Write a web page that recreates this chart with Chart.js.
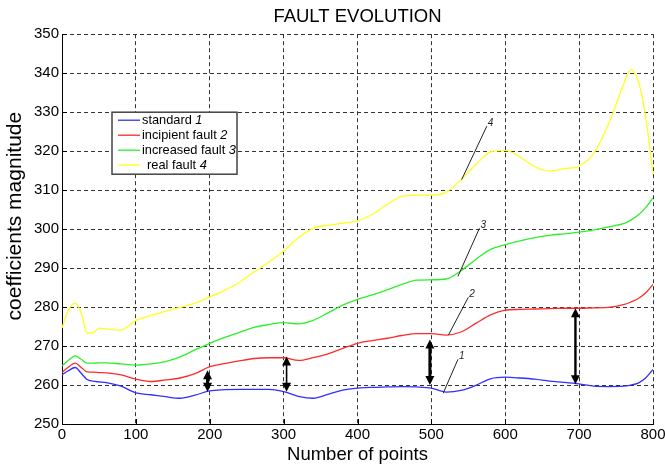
<!DOCTYPE html>
<html>
<head>
<title>Fault evolution</title>
<script src="https://cdn.jsdelivr.net/npm/chart.js@4.4.2/dist/chart.umd.min.js"></script>
<style>
    html, body { margin: 0; background: #fff; }
    canvas { display: block; }
</style>
</head>
<body>
<canvas id="faultChart" width="665" height="469"></canvas>
<script>
// sample index along the record
const points = [0, 8, 18, 26, 34, 42, 50, 60, 80, 100, 120, 140, 160, 180, 200, 220, 240, 260, 280, 300,
    320, 340, 360, 380, 400, 420, 440, 460, 480, 500, 520, 540, 560, 580, 600, 620, 640, 660, 680, 700,
    720, 740, 760, 770, 780, 790, 800];

// coefficient magnitude for each condition
const standard = [262.6, 263.6, 264.5, 263.0, 261.4, 261.0, 260.8, 260.6, 259.7, 258.0, 257.5, 257.0, 256.6, 257.4, 258.5, 258.8, 258.9, 258.9, 258.9, 258.3,
    257.1, 256.6, 257.6, 258.7, 259.2, 259.4, 259.5, 259.6, 259.5, 259.2, 258.2, 258.6, 259.9, 261.6, 262.0, 261.8, 261.5, 261.0, 260.7, 260.3,
    259.7, 259.6, 259.7, 260.0, 260.5, 261.8, 264.0];
const incipient = [263.2, 264.5, 265.6, 264.5, 263.4, 263.3, 263.2, 263.1, 262.6, 261.5, 260.9, 261.3, 261.8, 262.9, 264.7, 265.5, 266.2, 266.8, 267.0, 267.0,
    266.3, 267.0, 268.0, 269.4, 270.7, 271.4, 272.0, 272.7, 273.2, 273.2, 272.8, 273.6, 275.8, 278.0, 279.2, 279.4, 279.5, 279.6, 279.7, 279.7,
    279.8, 279.9, 280.6, 281.3, 282.2, 283.6, 285.8];
const increased = [264.9, 266.2, 267.5, 266.6, 265.6, 265.6, 265.7, 265.7, 265.4, 265.1, 265.4, 266.0, 267.2, 269.0, 270.7, 272.2, 273.5, 274.8, 275.5, 276.0,
    275.7, 276.6, 278.5, 280.5, 282.0, 283.1, 284.4, 285.8, 286.9, 287.0, 287.2, 289.3, 292.2, 294.8, 296.0, 297.0, 297.8, 298.4, 298.8, 299.2,
    299.8, 300.6, 301.4, 302.3, 303.6, 305.5, 308.0];
const realFault = [274.6, 279.0, 281.0, 278.5, 273.3, 273.4, 274.6, 274.4, 274.1, 276.6, 277.8, 278.9, 279.9, 281.0, 282.6, 284.3, 286.3, 289.0, 291.5, 294.4,
    297.8, 300.2, 301.0, 301.5, 302.1, 303.8, 306.3, 308.4, 308.7, 308.7, 309.5, 312.6, 316.5, 319.8, 320.2, 318.5, 316.0, 314.9, 315.5, 316.2,
    319.5, 327.0, 337.0, 341.0, 338.0, 329.0, 314.0];

const seriesNames = ['standard', 'incipient fault', 'increased fault', 'real fault'];
const seriesTags = ['1', '2', '3', '4'];

// double arrows between standard and fault curves
const arrowX = [197, 304, 498, 695];
const arrowLow = [258.3, 258.3, 260.0, 260.2];
const arrowHigh = [263.8, 267.3, 271.7, 279.7];

// leader lines naming each curve
const leaderX0 = [516, 523, 536, 541];
const leaderY0 = [257.9, 272.8, 287.9, 312.7];
const leaderX1 = [536, 550, 565, 575];
const leaderY1 = [266.6, 282.5, 300.2, 326.4];

const FONT = '"Liberation Sans", Arial, sans-serif';
Chart.defaults.font.family = FONT;
Chart.defaults.color = '#000';

const colors = ['#2f2fff', '#ff2a2a', '#2cf02c', '#ffff1a'];
const values = [standard, incipient, increased, realFault];

const datasets = values.map((vals, i) => ({
    label: seriesNames[i],
    data: points.map((x, j) => ({ x: x, y: vals[j] })),
    borderColor: colors[i],
    borderWidth: 1.3,
    pointRadius: 0,
    cubicInterpolationMode: 'monotone',
    fill: false
}));

// arrows, leaders, inward ticks, y label and the boxed legend
const annotations = {
    id: 'annotations',
    afterDatasetsDraw(chart) {
        const { ctx, chartArea, scales: { x, y } } = chart;
        ctx.save();

        // inward tick marks
        ctx.strokeStyle = '#000';
        ctx.lineWidth = 1;
        x.ticks.forEach(t => {
            const px = Math.round(x.getPixelForValue(t.value)) + 0.5;
            ctx.beginPath();
            ctx.moveTo(px, chartArea.bottom);
            ctx.lineTo(px, chartArea.bottom - 5);
            ctx.stroke();
        });
        y.ticks.forEach(t => {
            const py = Math.round(y.getPixelForValue(t.value)) + 0.5;
            ctx.beginPath();
            ctx.moveTo(chartArea.left, py);
            ctx.lineTo(chartArea.left + 5, py);
            ctx.stroke();
        });

        // y axis label, sitting a little above the axis middle
        ctx.save();
        ctx.translate(15, (chartArea.top + chartArea.bottom) / 2 - 13);
        ctx.rotate(-Math.PI / 2);
        ctx.font = '21px ' + FONT;
        ctx.fillStyle = '#000';
        ctx.textAlign = 'center';
        ctx.textBaseline = 'middle';
        ctx.fillText('coefficients magnitude', 0, 0);
        ctx.restore();

        // leaders with italic numbers
        ctx.strokeStyle = '#222';
        ctx.fillStyle = '#222';
        ctx.lineWidth = 1;
        ctx.font = 'italic 10px ' + FONT;
        ctx.textAlign = 'left';
        ctx.textBaseline = 'bottom';
        seriesTags.forEach((tag, i) => {
            const x0 = x.getPixelForValue(leaderX0[i]), y0 = y.getPixelForValue(leaderY0[i]);
            const x1 = x.getPixelForValue(leaderX1[i]), y1 = y.getPixelForValue(leaderY1[i]);
            ctx.beginPath();
            ctx.moveTo(x0, y0);
            ctx.lineTo(x1, y1);
            ctx.stroke();
            ctx.fillText(tag, x1 + 1, y1 + 2);
        });

        // double-headed arrows
        const arrowWidths = [3, 1.6, 3, 2.4];
        ctx.fillStyle = '#000';
        ctx.strokeStyle = '#000';
        arrowX.forEach((ax, i) => {
            const px = x.getPixelForValue(ax);
            const top = y.getPixelForValue(arrowHigh[i]);
            const bot = y.getPixelForValue(arrowLow[i]);
            const head = 9, half = 4.5;
            ctx.lineWidth = arrowWidths[i];
            ctx.beginPath();
            ctx.moveTo(px, top + head - 1);
            ctx.lineTo(px, bot - head + 1);
            ctx.stroke();
            ctx.beginPath();
            ctx.moveTo(px, top);
            ctx.lineTo(px - half, top + head);
            ctx.lineTo(px + half, top + head);
            ctx.closePath();
            ctx.fill();
            ctx.beginPath();
            ctx.moveTo(px, bot);
            ctx.lineTo(px - half, bot - head);
            ctx.lineTo(px + half, bot - head);
            ctx.closePath();
            ctx.fill();
        });

        // legend box
        const lx = chartArea.left + 50, ly = chartArea.top + 78, lw = 125, lh = 62;
        ctx.fillStyle = '#fff';
        ctx.fillRect(lx, ly, lw, lh);
        ctx.strokeStyle = '#444';
        ctx.lineWidth = 1.5;
        ctx.strokeRect(lx, ly, lw, lh);
        ctx.textBaseline = 'middle';
        chart.data.datasets.forEach((ds, i) => {
            const rowY = ly + 8 + i * 15;
            ctx.strokeStyle = ds.borderColor;
            ctx.lineWidth = 1.3;
            ctx.beginPath();
            ctx.moveTo(lx + 6, rowY);
            ctx.lineTo(lx + 28, rowY);
            ctx.stroke();
            ctx.fillStyle = '#000';
            ctx.font = '12.8px ' + FONT;
            let tx = lx + 30 + (i === 3 ? 5 : 0);
            const name = ds.label + ' ';
            ctx.fillText(name, tx, rowY);
            tx += ctx.measureText(name).width;
            ctx.font = 'italic 12.8px ' + FONT;
            ctx.fillText(seriesTags[i], tx, rowY);
        });

        ctx.restore();
    }
};

new Chart(document.getElementById('faultChart'), {
    type: 'line',
    data: { datasets: datasets },
    options: {
        responsive: false,
        animation: false,
        layout: { padding: { top: 0, right: 12, bottom: 0, left: 0 } },
        scales: {
            x: {
                type: 'linear',
                min: 0,
                max: 800,
                ticks: { stepSize: 100, padding: 2, font: { size: 15 }, color: '#000' },
                grid: { color: '#333', lineWidth: 1, tickLength: 0, drawTicks: false },
                border: { display: true, color: '#000', width: 1, dash: [4, 3] },
                title: { display: true, text: 'Number of points', font: { size: 18.5 }, color: '#000', padding: { top: 3, bottom: 3 } },
                afterFit(scale) {
                    scale.height = 45;
                    scale.paddingRight = 0;
                }
            },
            y: {
                min: 250,
                max: 350,
                ticks: { stepSize: 10, padding: 3, font: { size: 15 }, color: '#000' },
                grid: { color: '#333', lineWidth: 1, tickLength: 0, drawTicks: false },
                border: { display: true, color: '#000', width: 1, dash: [4, 3] },
                afterFit(scale) { scale.width = 62; }
            }
        },
        plugins: {
            legend: { display: false },
            tooltip: { enabled: false },
            title: {
                display: true,
                text: 'FAULT EVOLUTION',
                fullSize: false,
                font: { size: 18.5, weight: 'normal' },
                color: '#000',
                padding: { top: 6, bottom: 6 }
            }
        }
    },
    plugins: [annotations]
});
</script>
</body>
</html>
